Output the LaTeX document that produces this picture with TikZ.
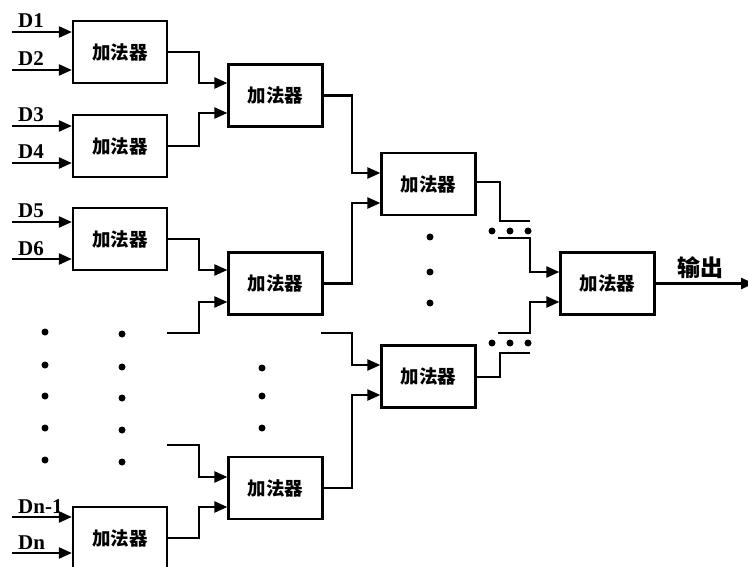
\documentclass[tikz,border=0pt]{standalone}
\usepackage{fontspec}
\setmainfont{Liberation Serif}
\newfontfamily\cjk{Noto Sans CJK SC}
\usetikzlibrary{arrows.meta}
\begin{document}
\begin{tikzpicture}[x=1pt,y=-1pt,
  adder/.style={draw,line width=2.2pt,minimum width=94pt,minimum height=62pt,inner sep=0pt,font=\cjk\bfseries\fontsize{18.5}{18.5}\selectfont},
  wire/.style={line width=2.2pt},
  arr/.style={wire,-{Triangle[length=13pt,width=11pt]}},
  dlab/.style={font=\bfseries\fontsize{21}{21}\selectfont,anchor=base west,inner sep=0pt},
  dot/.style={circle,fill,inner sep=0pt,minimum size=7pt}]
\useasboundingbox (0,0) rectangle (748,567);
% column 1
\node[adder] (a1) at (120,52) {加法器};
\node[adder] (a2) at (120,146) {加法器};
\node[adder] (a3) at (120,239) {加法器};
\node[adder] (an) at (120,538) {加法器};
% column 2
\node[adder] (b1) at (275.5,95.5) {加法器};
\node[adder] (b2) at (275.5,283.5) {加法器};
\node[adder] (b3) at (275.5,488) {加法器};
% column 3
\node[adder] (c1) at (428.5,184) {加法器};
\node[adder] (c2) at (428.5,376.5) {加法器};
% final
\node[adder] (f) at (607.5,283.5) {加法器};
% inputs
\foreach \nm/\lab/\y in {i1/D1/32,i2/D2/70,i3/D3/126,i4/D4/163,i5/D5/222,i6/D6/259,i7/Dn-1/517,i8/Dn/553}{
  \coordinate (\nm) at (12,\y);
  \node[dlab] at (18,\y-4) {\lab};
}
\draw[arr] (i1) -- (i1 -| a1.west);
\draw[arr] (i2) -- (i2 -| a1.west);
\draw[arr] (i3) -- (i3 -| a2.west);
\draw[arr] (i4) -- (i4 -| a2.west);
\draw[arr] (i5) -- (i5 -| a3.west);
\draw[arr] (i6) -- (i6 -| a3.west);
\draw[arr] (i7) -- (i7 -| an.west);
\draw[arr] (i8) -- (i8 -| an.west);
% col1 -> col2
\draw[arr] (a1.east) -- (199,52) -- (199,83) -- (b1.west |- 0,83);
\draw[arr] (a2.east) -- (199,146) -- (199,113) -- (b1.west |- 0,113);
\draw[arr] (a3.east) -- (199,239) -- (199,270) -- (b2.west |- 0,270);
\coordinate (fb2) at (167,333);
\draw[arr] (fb2) -- (199,333) -- (199,302) -- (b2.west |- 0,302);
\coordinate (fb3) at (167,445);
\draw[arr] (fb3) -- (199,445) -- (199,477) -- (b3.west |- 0,477);
\draw[arr] (an.east) -- (199,538) -- (199,507) -- (b3.west |- 0,507);
% col2 -> col3
\draw[arr] (b1.east) -- (352,95.5) -- (352,173) -- (c1.west |- 0,173);
\draw[arr] (b2.east) -- (352,283.5) -- (352,203) -- (c1.west |- 0,203);
\coordinate (fc2) at (321,333);
\draw[arr] (fc2) -- (352,333) -- (352,365) -- (c2.west |- 0,365);
\draw[arr] (b3.east) -- (352,488) -- (352,395) -- (c2.west |- 0,395);
% col3 -> final
\coordinate (e1) at (530,221);
\draw[wire] (c1.east |- 0,182) -- (500,182) -- (500,221) -- (e1);
\coordinate (s1) at (498,238);
\draw[arr] (s1) -- (530,238) -- (530,272) -- (f.west |- 0,272);
\coordinate (s2) at (498,333);
\draw[arr] (s2) -- (530,333) -- (530,302) -- (f.west |- 0,302);
\coordinate (e2) at (530,353);
\draw[wire] (c2.east |- 0,377) -- (500,377) -- (500,353) -- (e2);
% output
\coordinate (out) at (754,283.5);
\draw[arr] (f.east) -- (out);
\node[font=\cjk\bfseries\fontsize{23}{23}\selectfont,inner sep=0pt] at (700,268) {输出};
% dots
\foreach \y in {332,365,396,428,460}{
  \node[dot] at (45,\y) {};
  \node[dot] at (122,\y+2) {};
}
\foreach \y in {368,396,428}{ \node[dot] at (262,\y) {}; }
\foreach \y in {237,272,303}{ \node[dot] at (430,\y) {}; }
\foreach \x in {492,510,528}{
  \node[dot] at (\x,231) {};
  \node[dot] at (\x,343) {};
}
\end{tikzpicture}
\end{document}
